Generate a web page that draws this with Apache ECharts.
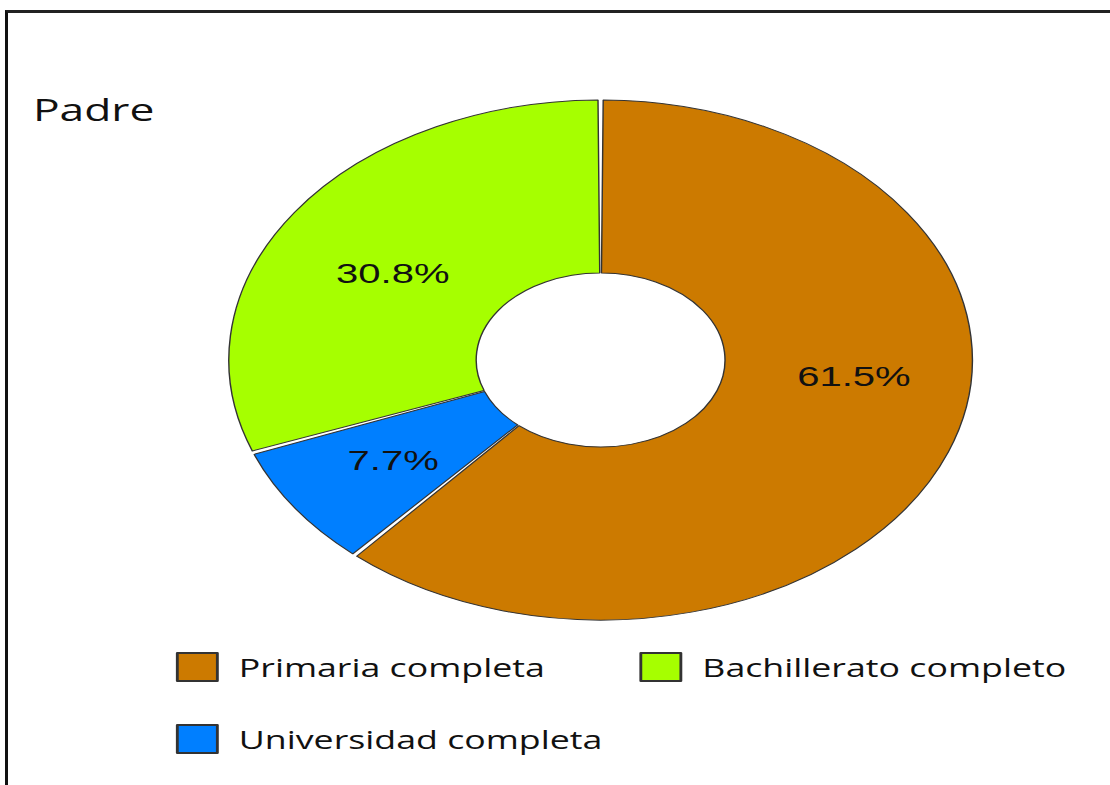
<!DOCTYPE html>
<html>
<head>
<meta charset="utf-8">
<script src="https://cdn.jsdelivr.net/npm/echarts@6/dist/echarts.min.js"></script>
<style>
  html, body { margin: 0; padding: 0; background: #fff; overflow: hidden; }
  #wrap { position: relative; width: 1110px; height: 785px; overflow: hidden; }
  #frame { position: absolute; left: 5px; top: 10px; width: 1200px; height: 900px;
           border-left: 3px solid #111; border-top: 3px solid #222; }
  /* the reference is stretched sideways, so the chart is drawn narrow and widened */
  #main { position: absolute; left: 0; top: 0; width: 776px; height: 785px;
          transform: scaleX(1.43); transform-origin: 0 0; }
</style>
</head>
<body>
<div id="wrap">
  <div id="frame"></div>
  <div id="main"></div>
</div>
<script>
// slices, clockwise from 12 o'clock
const categories = ['Primaria completa', 'Universidad completa', 'Bachillerato completo'];
const percents = [61.5, 7.7, 30.8];
const colors = ['#CC7A00', '#007FFF', '#A6FF00'];
// legend rows
const legendRow1 = ['Primaria completa', 'Bachillerato completo'];
const legendRow2 = ['Universidad completa'];

const myChart = echarts.init(document.getElementById('main'), null, { renderer: 'svg' });

const legendBase = {
  orient: 'horizontal',
  left: 118,
  itemWidth: 28,
  itemHeight: 28,
  itemGap: 66,
  icon: 'rect',
  selectedMode: false,
  textStyle: {
    fontFamily: 'Open Sans',
    fontSize: 25,
    color: '#111',
    padding: [0, 0, 0, 10]
  }
};

myChart.setOption({
  animation: false,
  color: colors,
  title: {
    text: 'Padre',
    left: 18,
    top: 88,
    textStyle: { fontFamily: 'Open Sans', fontSize: 31, fontWeight: 'normal', color: '#111' }
  },
  legend: [
    Object.assign({}, legendBase, { data: legendRow1, top: 647 }),
    Object.assign({}, legendBase, { data: legendRow2, top: 719 })
  ],
  series: [{
    type: 'pie',
    center: [420, 360],
    radius: [87, 260],
    startAngle: 90,
    clockwise: true,
    padAngle: 0.8,
    emphasis: { disabled: true },
    itemStyle: { borderColor: '#333', borderWidth: 1 },
    label: {
      show: true,
      position: 'inside',
      formatter: '{c}%',
      fontFamily: 'Liberation Sans',
      fontSize: 28,
      color: '#111'
    },
    labelLine: { show: false },
    labelLayout: function (p) {
      if (p.dataIndex === 0) return { dx: 12, dy: -46 };
      if (p.dataIndex === 2) return { dy: 13 };
      return {};
    },
    data: categories.map((name, i) => ({ name: name, value: percents[i] }))
  }]
});
</script>
</body>
</html>
